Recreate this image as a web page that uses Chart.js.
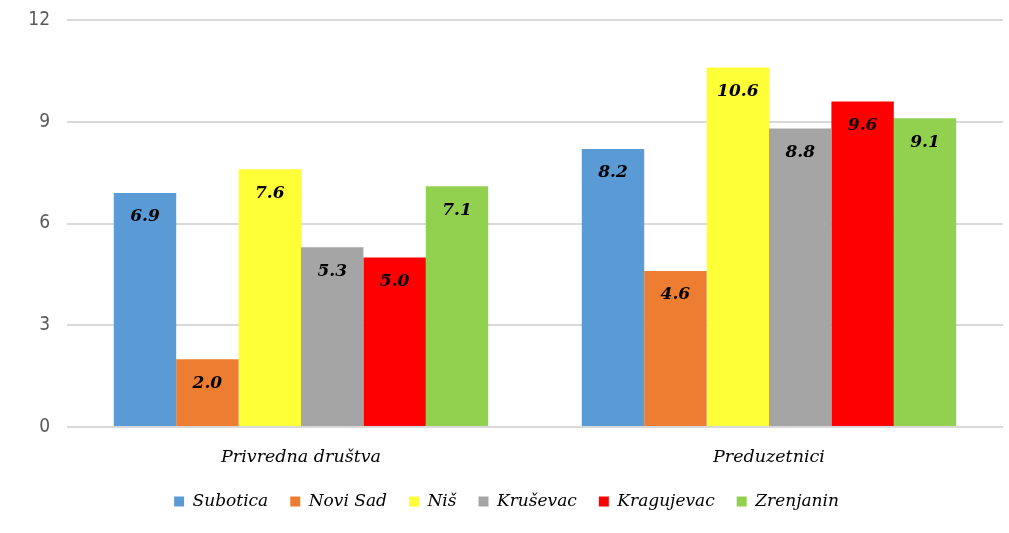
<!DOCTYPE html>
<html>
<head>
<meta charset="utf-8">
<script src="https://cdn.jsdelivr.net/npm/chart.js@4"></script>
<style>
    html, body { margin: 0; padding: 0; background: #fff; }
    #wrap { width: 1009px; height: 533px; position: relative; }
</style>
</head>
<body>
<div id="wrap"><canvas id="chart"></canvas></div>
<script>
const categories = ['Privredna društva', 'Preduzetnici'];
const cities = ['Subotica', 'Novi Sad', 'Niš', 'Kruševac', 'Kragujevac', 'Zrenjanin'];
const subotica = [6.9, 8.2];
const noviSad = [2.0, 4.6];
const nis = [7.6, 10.6];
const krusevac = [5.3, 8.8];
const kragujevac = [5.0, 9.6];
const zrenjanin = [7.1, 9.1];
const yTicks = [0, 3, 6, 9, 12];

const seriesValues = [subotica, noviSad, nis, krusevac, kragujevac, zrenjanin];
const colors = ['#5B9BD5', '#ED7D31', '#FFFF38', '#A5A5A5', '#FF0000', '#92D050'];

const serif = "'DejaVu Serif', serif";

// value labels drawn inside the top of each bar
const barLabels = {
    id: 'barLabels',
    afterDatasetsDraw(chart) {
        const ctx = chart.ctx;
        ctx.save();
        ctx.font = "italic bold 17px " + serif;
        ctx.fillStyle = '#000';
        ctx.textAlign = 'center';
        ctx.textBaseline = 'middle';
        chart.data.datasets.forEach((ds, i) => {
            chart.getDatasetMeta(i).data.forEach((bar, j) => {
                ctx.fillText(ds.data[j].toFixed(1), bar.x, bar.y + 24);
            });
        });
        ctx.restore();
    }
};

new Chart(document.getElementById('chart'), {
    type: 'bar',
    data: {
        labels: categories,
        datasets: cities.map((c, i) => ({
            label: c,
            data: seriesValues[i],
            backgroundColor: colors[i],
            categoryPercentage: 0.8,
            barPercentage: 1.0
        }))
    },
    options: {
        responsive: true,
        maintainAspectRatio: false,
        animation: false,
        layout: { padding: { top: 20, right: 6, left: 10, bottom: 13 } },
        plugins: {
            tooltip: { enabled: false },
            legend: {
                position: 'bottom',
                labels: {
                    boxWidth: 10,
                    boxHeight: 10,
                    padding: 22,
                    color: '#000',
                    font: { family: serif, style: 'italic', size: 17 }
                }
            }
        },
        scales: {
            x: {
                grid: { display: false },
                border: { display: false },
                afterFit(scale) { scale.height -= 9; },
                ticks: {
                    color: '#000',
                    padding: 12,
                    font: { family: serif, style: 'italic', size: 17.5 }
                }
            },
            y: {
                min: 0,
                max: 12,
                afterBuildTicks(scale) {
                    scale.ticks = yTicks.map(v => ({ value: v }));
                },
                afterFit(scale) {
                    scale.width = 57;
                    scale.paddingTop = 0;
                    scale.paddingBottom = 0;
                },
                grid: { color: '#D9D9D9', lineWidth: 2, drawTicks: false },
                border: { display: false },
                ticks: {
                    color: '#595959',
                    padding: 17,
                    font: { family: "'Liberation Sans Narrow', 'DejaVu Sans Condensed', sans-serif", size: 19 }
                }
            }
        }
    },
    plugins: [barLabels]
});
</script>
</body>
</html>
